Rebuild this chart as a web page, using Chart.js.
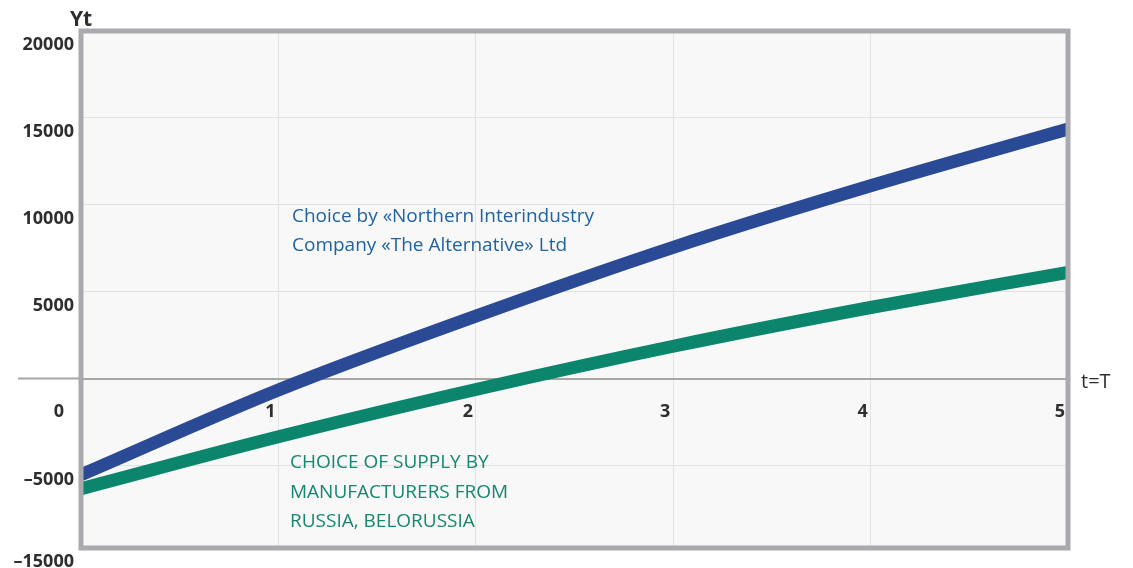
<!DOCTYPE html>
<html>
<head>
<meta charset="utf-8">
<script src="https://cdn.jsdelivr.net/npm/chart.js@4.4.0/dist/chart.umd.min.js"></script>
<style>
  body { margin: 0; background: #fff; }
</style>
</head>
<body>
<canvas id="chart" width="1133" height="568"></canvas>
<script>
// Yt over the period t = 0..T
const periods = [0, 1, 2, 3, 4, 5];
const alternativeValues = [-5540, -660, 3590, 7550, 11090, 14360];
const russiaValues = [-6340, -3350, -630, 1860, 4090, 6110];

const xTickLabels = ['0', '1', '2', '3', '4', '5'];
const yTickValues = [20000, 15000, 10000, 5000, 0, -5000, -9750];
const yTickLabels = ['20000', '15000', '10000', '5000', '', '–5000', '–15000'];

const alternativeCaption = ['Choice by «Northern Interindustry', 'Company «The Alternative» Ltd'];
const russiaCaption = ['CHOICE OF SUPPLY BY', 'MANUFACTURERS FROM', 'RUSSIA, BELORUSSIA'];

const COLORS = {
    blue: '#2b4a95',
    green: '#0b856c',
    blueText: '#2163a0',
    greenText: '#15876e',
    text: '#2e2e2e',
    grid: '#e2e2e2',
    zero: '#a6a6a6',
    frame: '#a9a9ae',
    plot: '#f8f8f8',
};

Chart.defaults.font.family = '"Open Sans", sans-serif';

const toPoints = vals => periods.map((t, i) => ({ x: t, y: vals[i] }));

// plot background, frame, axis names and the two captions
const framePlugin = {
    id: 'frame',
    beforeDraw(chart) {
        const { ctx, chartArea: a } = chart;
        ctx.save();
        ctx.fillStyle = COLORS.plot;
        ctx.fillRect(a.left, a.top, a.right - a.left, a.bottom - a.top);
        ctx.restore();
    },
    afterDraw(chart) {
        const { ctx, chartArea: a, scales } = chart;
        const y0 = scales.y.getPixelForValue(0);
        ctx.save();

        // zero line runs out past the left edge
        ctx.strokeStyle = COLORS.zero;
        ctx.lineWidth = 2;
        ctx.beginPath();
        ctx.moveTo(18, y0);
        ctx.lineTo(a.left, y0);
        ctx.stroke();

        ctx.strokeStyle = COLORS.frame;
        ctx.lineWidth = 5;
        ctx.strokeRect(a.left, a.top, a.right - a.left, a.bottom - a.top);

        ctx.textBaseline = 'alphabetic';
        ctx.textAlign = 'left';
        ctx.fillStyle = COLORS.text;
        ctx.font = 'bold 21px "Open Sans"';
        ctx.fillText('Yt', 70, 26);
        ctx.font = '20px "Open Sans"';
        ctx.fillText('t=T', a.right + 13, y0 + 9);

        ctx.font = '19px "Open Sans"';
        ctx.fillStyle = COLORS.blueText;
        alternativeCaption.forEach((line, i) => ctx.fillText(line, 292, 222 + i * 29));
        ctx.fillStyle = COLORS.greenText;
        russiaCaption.forEach((line, i) => ctx.fillText(line, 290, 468 + i * 29.5));

        ctx.restore();
    },
};

new Chart(document.getElementById('chart'), {
    type: 'line',
    data: {
        datasets: [
            {
                label: 'Northern Interindustry Company «The Alternative» Ltd',
                data: toPoints(alternativeValues),
                borderColor: COLORS.blue,
                borderWidth: 13,
                cubicInterpolationMode: 'monotone',
                pointRadius: 0,
                clip: 0,
            },
            {
                label: 'Manufacturers from Russia, Belorussia',
                data: toPoints(russiaValues),
                borderColor: COLORS.green,
                borderWidth: 13,
                cubicInterpolationMode: 'monotone',
                pointRadius: 0,
                clip: 0,
            },
        ],
    },
    options: {
        responsive: false,
        animation: false,
        layout: { padding: { top: 31, right: 65, bottom: 20, left: 0 } },
        scales: {
            x: {
                type: 'linear',
                position: { y: 0 },
                min: 0,
                max: 5,
                ticks: {
                    stepSize: 1,
                    labelOffset: -8,
                    padding: 23,
                    color: COLORS.text,
                    font: { size: 18, weight: 'bold' },
                    // the 0 label sits further left, clear of the axis
                    callback: (v, i) => i === 0 ? xTickLabels[i] + '      ' : xTickLabels[i],
                },
                grid: { color: COLORS.grid, drawTicks: false },
                border: { color: COLORS.zero, width: 2 },
            },
            y: {
                position: 'left',
                min: -9750,
                max: 20000,
                afterBuildTicks: axis => {
                    axis.ticks = yTickValues.map(v => ({ value: v }));
                },
                afterFit: axis => { axis.width = 81; },
                ticks: {
                    padding: 7,
                    labelOffset: 14,
                    color: COLORS.text,
                    font: { size: 18, weight: 'bold' },
                    callback: v => yTickLabels[yTickValues.indexOf(v)],
                },
                grid: { color: COLORS.grid, drawTicks: false },
                border: { display: false },
            },
        },
        plugins: {
            legend: { display: false },
            tooltip: { enabled: false },
        },
    },
    plugins: [framePlugin],
});
</script>
</body>
</html>
